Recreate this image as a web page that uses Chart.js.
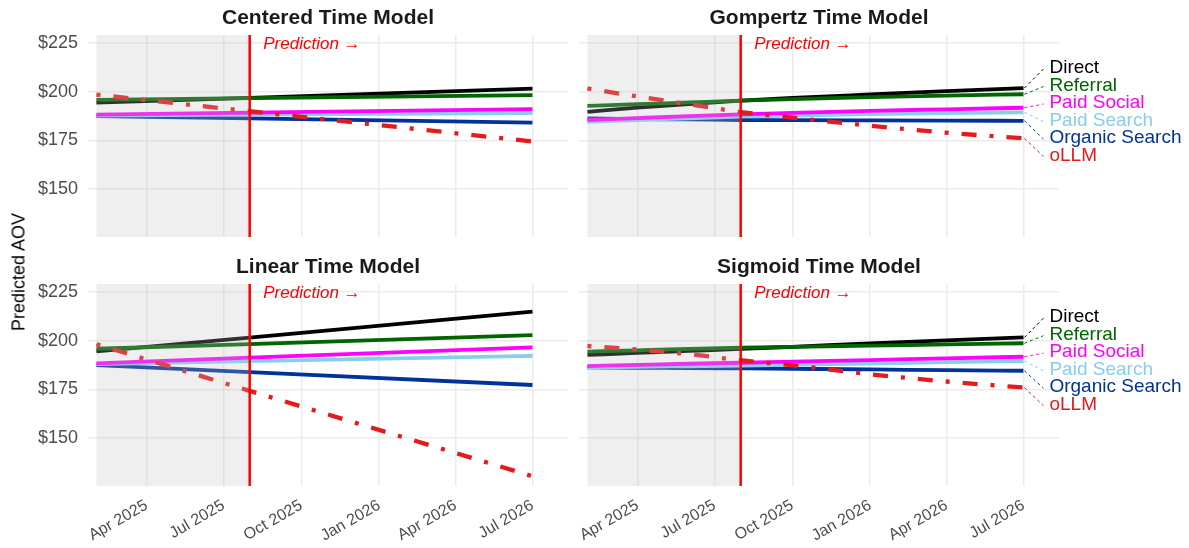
<!DOCTYPE html>
<html>
<head>
<meta charset="utf-8">
<title>Predicted AOV by channel</title>
<script src="https://cdn.jsdelivr.net/npm/chart.js@4.4.1/dist/chart.umd.min.js"></script>
<style>
  html, body { margin: 0; padding: 0; background: #ffffff; }
  #wrap { position: relative; width: 1189px; height: 548px; overflow: hidden;
          font-family: "Liberation Sans", Arial, sans-serif; }
  canvas { position: absolute; }
  .ttl { position: absolute; width: 480px; text-align: center; font-weight: bold;
         font-size: 21px; line-height: 22px; color: #1a1a1a; white-space: nowrap; }
  #ylab { position: absolute; left: 19px; top: 272px; font-size: 18px; color: #000;
          white-space: nowrap; transform: translate(-50%, -50%) rotate(-90deg); }
</style>
</head>
<body>
<div id="wrap">
  <canvas id="cCentered" width="590" height="260" style="left:0px;top:0px"></canvas>
  <canvas id="cGompertz" width="610" height="260" style="left:579px;top:0px"></canvas>
  <canvas id="cLinear" width="590" height="288" style="left:0px;top:260px"></canvas>
  <canvas id="cSigmoid" width="610" height="288" style="left:579px;top:260px"></canvas>
  <div class="ttl" style="left:88px;top:6px">Centered Time Model</div>
  <div class="ttl" style="left:579px;top:6px">Gompertz Time Model</div>
  <div class="ttl" style="left:88px;top:255px">Linear Time Model</div>
  <div class="ttl" style="left:579px;top:255px">Sigmoid Time Model</div>
  <div id="ylab">Predicted AOV</div>
</div>
<script>
// Channels and their colours
const seriesNames = ['Direct', 'Referral', 'Paid Social', 'Paid Search', 'Organic Search', 'oLLM'];
const seriesColors = ['#000000', '#006400', '#FF00FF', '#87CEEB', '#003399', '#E41A1C'];

// Observation window and forecast cut-off
const historyStart = '2025-02-01';
const cutoffDate = '2025-08-01';

// Straight-line models are evaluated at start, cut-off and horizon
const lineDates = ['2025-02-01', '2025-08-01', '2026-07-01'];
// Curved models are evaluated along the whole range
const curveDates = ['2025-02-01', '2025-04-01', '2025-06-01', '2025-08-01',
                    '2025-10-01', '2026-01-01', '2026-04-01', '2026-07-01'];

// Centered time model
const centeredDirect        = [194.4, 196.9, 201.6];
const centeredReferral      = [195.8, 196.7, 198.3];
const centeredPaidSocial    = [188.3, 189.3, 191.1];
const centeredPaidSearch    = [187.8, 188.3, 189.1];
const centeredOrganicSearch = [187.5, 186.3, 184.2];
const centeredOllm          = [198.5, 190.0, 174.5];

// Linear time model
const linearDirect        = [194.6, 201.6, 214.9];
const linearReferral      = [195.9, 198.3, 202.9];
const linearPaidSocial    = [188.4, 191.3, 196.6];
const linearPaidSearch    = [188.0, 189.5, 192.2];
const linearOrganicSearch = [187.5, 183.9, 177.3];
const linearOllm          = [198.2, 174.3, 130.5];

// Gompertz time model
const gompertzDirect        = [189.7, 191.8, 193.7, 195.4, 196.8, 198.6, 200.3, 201.9];
const gompertzReferral      = [192.7, 193.6, 194.5, 195.4, 196.2, 197.2, 198.0, 198.7];
const gompertzPaidSocial    = [185.5, 186.5, 187.5, 188.4, 189.2, 190.2, 191.0, 191.8];
const gompertzPaidSearch    = [184.6, 185.5, 186.4, 187.2, 187.8, 188.5, 189.0, 189.4];
const gompertzOrganicSearch = [186.3, 186.0, 185.8, 185.5, 185.4, 185.3, 185.2, 185.1];
const gompertzOllm          = [201.7, 197.6, 193.6, 189.6, 186.7, 182.6, 179.0, 176.1];

// Sigmoid time model
const sigmoidDirect        = [192.7, 193.8, 194.8, 195.8, 196.9, 198.6, 200.2, 201.7];
const sigmoidReferral      = [194.4, 195.1, 195.8, 196.4, 196.9, 197.5, 198.1, 198.7];
const sigmoidPaidSocial    = [187.0, 187.6, 188.2, 188.7, 189.3, 190.1, 191.0, 191.8];
const sigmoidPaidSearch    = [186.2, 186.6, 186.9, 187.2, 187.6, 188.3, 189.0, 189.6];
const sigmoidOrganicSearch = [186.3, 186.1, 186.0, 185.8, 185.6, 185.3, 184.9, 184.6];
const sigmoidOllm          = [197.3, 195.5, 193.1, 190.0, 187.4, 182.8, 179.1, 176.0];

// Axis ticks
const yTicks = [150, 175, 200, 225];
const xTickDates = ['2025-04-01', '2025-07-01', '2025-10-01', '2026-01-01', '2026-04-01', '2026-07-01'];
const xTickLabels = ['Apr 2025', 'Jul 2025', 'Oct 2025', 'Jan 2026', 'Apr 2026', 'Jul 2026'];
const xRange = ['2025-01-22', '2026-08-12'];
const yRange = [125.5, 229.1];

const FONT = '"Liberation Sans", Arial, sans-serif';
Chart.defaults.font.family = FONT;

function day(s) {
  const [y, m, d] = s.split('-').map(Number);
  return Date.UTC(y, m - 1, d) / 86400000;
}

// stacking: oLLM on top, then Referral, Paid Social, Paid Search, Organic Search, Direct
const drawOrder = [5, 1, 2, 3, 4, 0];

function buildDatasets(dates, seriesList, curved) {
  return seriesList.map((vals, i) => ({
    label: seriesNames[i],
    data: vals.map((v, k) => ({ x: day(dates[k]), y: v })),
    borderColor: seriesColors[i],
    borderWidth: i === 5 ? 4.3 : 3.8,
    borderDash: i === 5 ? [4, 13, 15, 13] : [],
    borderCapStyle: 'butt',
    borderJoinStyle: 'round',
    pointRadius: 0,
    fill: false,
    cubicInterpolationMode: curved ? 'monotone' : 'default',
    tension: 0,
    order: drawOrder[i]
  }));
}

// Shaded history, cut-off marker, annotation and end labels
const panelDecor = {
  id: 'panelDecor',
  afterDatasetsDraw(chart, args, opts) {
    const { ctx, chartArea: a, scales: { x, y } } = chart;
    ctx.save();
    const x0 = x.getPixelForValue(day(historyStart));
    const x1 = x.getPixelForValue(day(cutoffDate));
    ctx.fillStyle = 'rgba(190,190,190,0.25)';
    ctx.fillRect(x0, a.top, x1 - x0, a.bottom - a.top);

    ctx.strokeStyle = '#FF0000';
    ctx.lineWidth = 2.5;
    ctx.beginPath();
    ctx.moveTo(x1, a.top);
    ctx.lineTo(x1, a.bottom);
    ctx.stroke();

    ctx.fillStyle = '#FF0000';
    ctx.font = 'italic 17px ' + FONT;
    ctx.textAlign = 'left';
    ctx.textBaseline = 'middle';
    ctx.fillText('Prediction \u2192', x.getPixelForValue(day(cutoffDate) + 16), y.getPixelForValue(224.2));

    if (opts.endLabels) {
      const metas = chart.data.datasets.map((ds, i) => {
        const last = ds.data[ds.data.length - 1];
        return { i, px: x.getPixelForValue(last.x), py: y.getPixelForValue(last.y) };
      }).sort((p, q) => p.py - q.py);
      const gap = 17.5;
      const mean = metas.reduce((s, m) => s + m.py, 0) / metas.length + 1.5;
      ctx.font = '19px ' + FONT;
      metas.forEach((m, k) => {
        const ly = mean + (k - (metas.length - 1) / 2) * gap;
        const col = seriesColors[m.i];
        ctx.strokeStyle = col;
        ctx.lineWidth = 1;
        ctx.setLineDash([3, 3]);
        ctx.beginPath();
        ctx.moveTo(m.px + 1, m.py);
        ctx.lineTo(m.px + 20, ly + 1);
        ctx.stroke();
        ctx.setLineDash([]);
        ctx.fillStyle = col;
        ctx.fillText(seriesNames[m.i], m.px + 26, ly);
      });
    }
    ctx.restore();
  }
};

function makePanel(id, dates, seriesList, curved, o) {
  const ctx = document.getElementById(id);
  return new Chart(ctx, {
    type: 'line',
    data: { datasets: buildDatasets(dates, seriesList, curved) },
    plugins: [panelDecor],
    options: {
      responsive: false,
      animation: false,
      devicePixelRatio: 1,
      layout: { padding: { top: o.padTop, right: o.padRight, left: 0, bottom: 0 } },
      plugins: {
        legend: { display: false },
        tooltip: { enabled: false },
        panelDecor: { endLabels: o.endLabels }
      },
      scales: {
        x: {
          type: 'linear',
          min: day(xRange[0]),
          max: day(xRange[1]),
          afterBuildTicks: s => { s.ticks = xTickDates.map(d => ({ value: day(d) })); },
          afterFit: s => { s.height = o.xAxisH; s.paddingLeft = 0; s.paddingRight = 0; },
          ticks: {
            display: o.showX,
            autoSkip: false,
            minRotation: 30,
            maxRotation: 30,
            padding: 10,
            color: '#4D4D4D',
            font: { size: 16, family: FONT },
            callback: v => xTickLabels[xTickDates.findIndex(d => day(d) === v)]
          },
          grid: { color: '#EBEBEB', lineWidth: 1.5, drawTicks: false },
          border: { display: false }
        },
        y: {
          min: yRange[0],
          max: yRange[1],
          afterBuildTicks: s => { s.ticks = yTicks.map(v => ({ value: v })); },
          afterFit: s => { s.width = o.showY ? 88 : 0; s.paddingTop = 0; s.paddingBottom = 0; },
          ticks: {
            display: o.showY,
            padding: 10,
            color: '#4D4D4D',
            font: { size: 18, family: FONT },
            callback: v => '$' + v
          },
          grid: { color: '#EBEBEB', lineWidth: 1.5, drawTicks: false },
          border: { display: false }
        }
      }
    }
  });
}

makePanel('cCentered', lineDates,
  [centeredDirect, centeredReferral, centeredPaidSocial, centeredPaidSearch, centeredOrganicSearch, centeredOllm],
  false, { padTop: 35, padRight: 22, xAxisH: 23, showX: false, showY: true, endLabels: false });

makePanel('cGompertz', curveDates,
  [gompertzDirect, gompertzReferral, gompertzPaidSocial, gompertzPaidSearch, gompertzOrganicSearch, gompertzOllm],
  true, { padTop: 35, padRight: 130, xAxisH: 23, showX: false, showY: false, endLabels: true });

makePanel('cLinear', lineDates,
  [linearDirect, linearReferral, linearPaidSocial, linearPaidSearch, linearOrganicSearch, linearOllm],
  false, { padTop: 24, padRight: 22, xAxisH: 62, showX: true, showY: true, endLabels: false });

makePanel('cSigmoid', curveDates,
  [sigmoidDirect, sigmoidReferral, sigmoidPaidSocial, sigmoidPaidSearch, sigmoidOrganicSearch, sigmoidOllm],
  true, { padTop: 24, padRight: 130, xAxisH: 62, showX: true, showY: false, endLabels: true });
</script>
</body>
</html>
